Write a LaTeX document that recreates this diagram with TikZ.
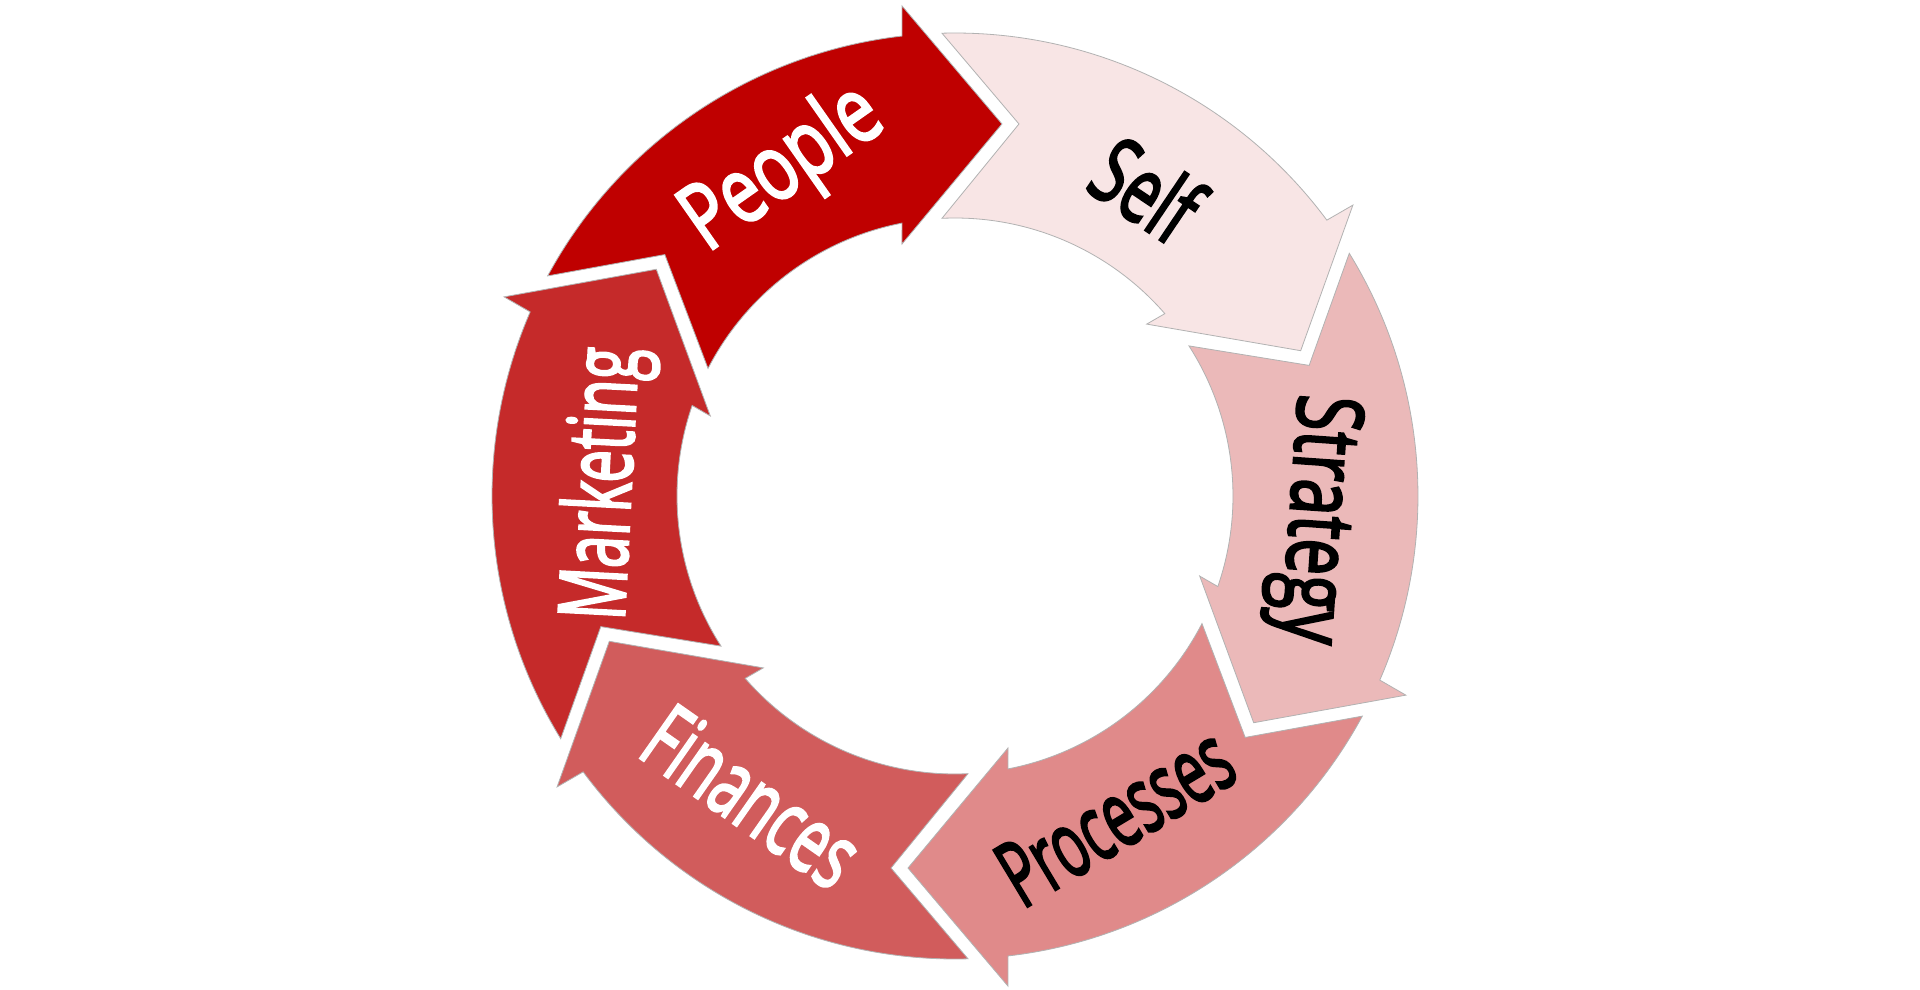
\documentclass[tikz,border=0pt]{standalone}
\usepackage{fontspec}
\usepackage{graphicx}
\newfontfamily\lblfont[FakeBold=3]{Open Sans}
\definecolor{cPeople}{HTML}{BF0000}
\definecolor{cSelf}{HTML}{F8E5E5}
\definecolor{cStrategy}{HTML}{EBB9B9}
\definecolor{cProcesses}{HTML}{E08A8A}
\definecolor{cFinances}{HTML}{D15C5C}
\definecolor{cMarketing}{HTML}{C52A2A}
\newcommand{\ringarrow}[2]{%
  \pgfmathsetmacro\raT{#1}%
  \pgfmathsetmacro\raH{#1-60}%
  \filldraw[arrowshape, fill=#2]
    (\raT+1.61:463) arc[start angle=\raT+1.61, end angle=\raH+6.57, radius=463pt]
    -- (\raH+6.17:492.9) -- (\raH-7.2:375) -- (\raH+11.88:257.5) -- (\raH+10.99:278)
    arc[start angle=\raH+10.99, end angle=\raT+2.68, radius=278pt]
    -- (\raT-9.76:377.5) -- cycle;}
\newcommand{\narrow}[2]{\scalebox{#1}[1]{#2}}
\begin{document}
\begin{tikzpicture}[x=1pt,y=1pt,
  arrowshape/.style={draw=black!30, line width=0.8pt, line join=miter},
  lbl/.style={font=\lblfont\fontsize{92}{104}\selectfont, inner sep=0pt, text=black},
  lightlbl/.style={lbl, text=white}]
\useasboundingbox (-955,-493) rectangle (965,496);
\fill[white] (-955,-493) rectangle (965,496);
\ringarrow{150}{cPeople}
\ringarrow{90}{cSelf}
\ringarrow{30}{cStrategy}
\ringarrow{-30}{cProcesses}
\ringarrow{-90}{cFinances}
\ringarrow{-150}{cMarketing}
\node[lightlbl, rotate=35] (people) at (117.7:368) {\narrow{0.75}{People}};
\node[lbl, rotate=-34] (self) at (58:362) {\narrow{0.68}{Self}};
\node[lbl, rotate=-94] (strategy) at (-3.7:358) {\narrow{0.71}{Strategy}};
\node[lbl, rotate=31] (processes) at (-63.4:358) {\narrow{0.60}{Processes}};
\node[lightlbl, rotate=-35] (finances) at (-124:362) {\narrow{0.64}{Finances}};
\node[lightlbl, rotate=87] (marketing) at (178:348) {\narrow{0.63}{Marketing}};
\end{tikzpicture}
\end{document}
